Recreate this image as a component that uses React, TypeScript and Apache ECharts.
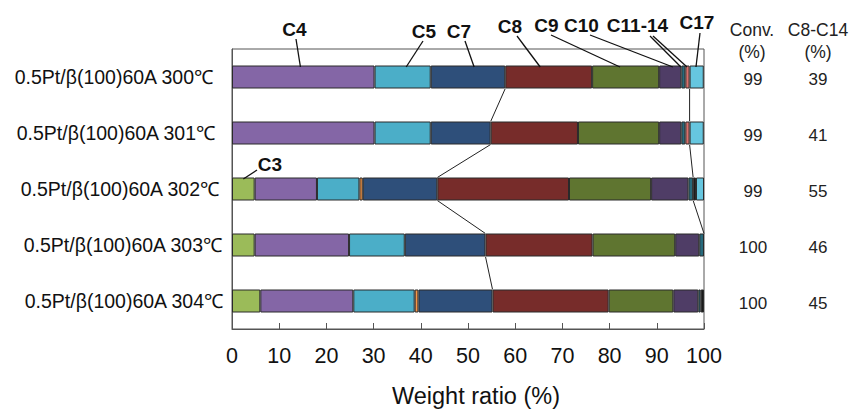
import React, { useEffect, useRef } from 'react';
import * as echarts from 'echarts';

const FONT = '"Liberation Sans", Arial, Helvetica, sans-serif';

const rows = [
  '0.5Pt/β(100)60A 300℃',
  '0.5Pt/β(100)60A 301℃',
  '0.5Pt/β(100)60A 302℃',
  '0.5Pt/β(100)60A 303℃',
  '0.5Pt/β(100)60A 304℃',
];

// weight ratio (%) per product group, one value per row
const C3 = [0, 0, 4.8, 4.8, 6.0];
const C4 = [30.2, 30.2, 13.2, 20.0, 19.7];
const C5 = [11.9, 11.9, 9.0, 11.8, 13.0];
const C6 = [0, 0, 0.7, 0, 0.8];
const C7 = [15.8, 12.7, 15.8, 17.1, 15.7];
const C8 = [18.4, 18.5, 27.9, 22.7, 24.6];
const C9 = [14.2, 17.2, 17.4, 17.5, 13.7];
const C10 = [4.7, 4.7, 7.9, 5.1, 5.3];
const C11_14 = [0.85, 0.85, 1.0, 1.0, 0.5];
const C15 = [0.9, 0.9, 0, 0, 0];
const C16 = [0, 0, 0.6, 0, 0.7];
const C17 = [3.0, 3.0, 1.7, 0, 0];

const conv = [99, 99, 99, 100, 100];
const c8c14 = [39, 41, 55, 46, 45];

const segments = [
  { name: 'C3', data: C3, color: '#9BBB59' },
  { name: 'C4', data: C4, color: '#8466A6' },
  { name: 'C5', data: C5, color: '#4BAEC8' },
  { name: 'C6', data: C6, color: '#F79646' },
  { name: 'C7', data: C7, color: '#2E4F7A' },
  { name: 'C8', data: C8, color: '#772C2A' },
  { name: 'C9', data: C9, color: '#5F7530' },
  { name: 'C10', data: C10, color: '#4F3D66' },
  { name: 'C11-14', data: C11_14, color: '#276A7C' },
  { name: 'C15', data: C15, color: '#D9706C' },
  { name: 'C16', data: C16, color: '#1A1A1A' },
  { name: 'C17', data: C17, color: '#66C6DF' },
];

const BAR = 23;

const cumThrough = (row: number, name: string) => {
  let s = 0;
  for (const seg of segments) {
    s += seg.data[row];
    if (seg.name === name) break;
  }
  return s;
};

// series lines (connectors between successive bars)
const connA = rows.map((_, r) => cumThrough(r, 'C7'));
const connB = rows.slice(0, 4).map((_, r) => cumThrough(r, 'C15'));

// annotation labels: label position (px), leader start (px), target value (%) on a row
const annotations = [
  { name: 'C4', lx: 294.5, ly: 29, starts: [[296, 39]], targets: [14.5], row: 0 },
  { name: 'C5', lx: 424, ly: 31, starts: [[423, 41]], targets: [36.9], row: 0 },
  { name: 'C7', lx: 459, ly: 31, starts: [[465, 41]], targets: [51.3], row: 0 },
  { name: 'C8', lx: 510, ly: 26, starts: [[517, 36]], targets: [65.3], row: 0 },
  { name: 'C9', lx: 546.5, ly: 25, starts: [[551, 35]], targets: [82.2], row: 0 },
  { name: 'C10', lx: 581.5, ly: 25, starts: [[590, 35]], targets: [93.4], row: 0 },
  { name: 'C11-14', lx: 637.5, ly: 25, starts: [[650, 36], [653, 36]], targets: [95.1, 96.4], row: 0 },
  { name: 'C17', lx: 697, ly: 22, starts: [[700, 33]], targets: [98.3], row: 0 },
  { name: 'C3', lx: 270, ly: 164.5, starts: [[257, 170]], targets: [2.4], row: 2 },
];

const connectorSeries = (vals: number[], id: string) => ({
  type: 'custom',
  id,
  silent: true,
  z: 5,
  encode: { x: 0, y: 1 },
  data: vals.slice(0, vals.length - 1).map((v, i) => [v, i, vals[i + 1]]),
  renderItem: (params: any, api: any) => {
    const i = api.value(1);
    const p1 = api.coord([api.value(0), i]);
    const p2 = api.coord([api.value(2), i + 1]);
    return {
      type: 'line',
      shape: { x1: p1[0], y1: p1[1] + BAR / 2, x2: p2[0], y2: p2[1] - BAR / 2 },
      style: { stroke: '#222', lineWidth: 1 },
    };
  },
});

export default function App() {
  const ref = useRef<HTMLDivElement>(null);
  useEffect(() => {
    if (!ref.current) return;
    const chart = echarts.init(ref.current, null, { renderer: 'svg' });
    const labelStyle = (pad: number) => ({
      fontSize: 19.5,
      color: '#111',
      fontFamily: FONT,
      padding: [0, pad, 0, 0],
    });
    const option: any = {
      animation: false,
      backgroundColor: '#fff',
      grid: {
        left: 232,
        right: 147,
        top: 49,
        bottom: 78,
        show: true,
        borderColor: '#555',
        borderWidth: 1,
        backgroundColor: 'transparent',
      },
      xAxis: {
        type: 'value',
        min: 0,
        max: 100,
        interval: 10,
        axisLine: { show: true, lineStyle: { color: '#555', width: 1 } },
        axisTick: { show: true, inside: true, length: 6, lineStyle: { color: '#555' } },
        splitLine: { show: false },
        axisLabel: { fontSize: 21.5, color: '#111', margin: 16, fontFamily: FONT },
        name: 'Weight ratio (%)',
        nameLocation: 'middle',
        nameGap: 55,
        nameTextStyle: { fontSize: 23.5, color: '#111', fontFamily: FONT, padding: [0, 0, 0, 16] },
      },
      yAxis: [
        {
          type: 'category',
          inverse: true,
          data: rows,
          axisLine: { show: true, lineStyle: { color: '#555' } },
          axisTick: { show: false },
          axisLabel: {
            margin: 9,
            align: 'right',
            formatter: (v: string, i: number) => `{r${i}|${v}}`,
            rich: {
              r0: labelStyle(10),
              r1: labelStyle(8),
              r2: labelStyle(4),
              r3: labelStyle(1),
              r4: labelStyle(0),
            },
          },
        },
        {
          type: 'category',
          inverse: true,
          position: 'right',
          data: rows,
          axisLine: { show: false },
          axisTick: { show: false },
          axisLabel: {
            margin: 19,
            align: 'left',
            formatter: (_v: string, i: number) => `{a|${conv[i]}}{b|${c8c14[i]}}`,
            rich: {
              a: { width: 60, align: 'center', fontSize: 17, color: '#222', fontFamily: FONT, padding: [4, 0, 0, 0] },
              b: { width: 70, align: 'center', fontSize: 17, color: '#222', fontFamily: FONT, padding: [4, 0, 0, 0] },
            },
          },
        },
      ],
      series: [
        ...segments.map((s) => ({
          type: 'bar',
          name: s.name,
          stack: 'total',
          barWidth: BAR,
          yAxisIndex: 0,
          data: s.data.map((v) => (v > 0 ? v : '-')),
          itemStyle: { color: s.color, borderColor: '#2a2a2a', borderWidth: 1 },
        })),
        connectorSeries(connA, 'connA'),
        connectorSeries(connB, 'connB'),
      ],
    };
    chart.setOption(option);

    const g: any[] = [];
    const header = (text: string, x: number, y: number) => ({
      type: 'text',
      x,
      y,
      style: { text, font: `17.5px ${FONT}`, fill: '#222', align: 'center', verticalAlign: 'middle' },
    });
    g.push(header('Conv.', 752, 30), header('(%)', 752, 52), header('C8-C14', 818, 30), header('(%)', 818, 52));
    annotations.forEach((a) => {
      g.push({
        type: 'text',
        x: a.lx,
        y: a.ly,
        style: { text: a.name, font: `bold 19px ${FONT}`, fill: '#111', align: 'center', verticalAlign: 'middle' },
      });
      a.targets.forEach((t, k) => {
        const p = chart.convertToPixel({ gridIndex: 0 } as any, [t, a.row]) as number[];
        const s = a.starts[Math.min(k, a.starts.length - 1)];
        g.push({
          type: 'line',
          z: 10,
          shape: { x1: s[0], y1: s[1], x2: p[0], y2: p[1] - BAR / 2 + 1.5 },
          style: { stroke: '#111', lineWidth: 1.3 },
        });
      });
    });
    chart.setOption({ graphic: g });
    return () => chart.dispose();
  }, []);
  return <div ref={ref} style={{ position: 'fixed', left: 0, top: 0, width: 851, height: 413 }} />;
}
